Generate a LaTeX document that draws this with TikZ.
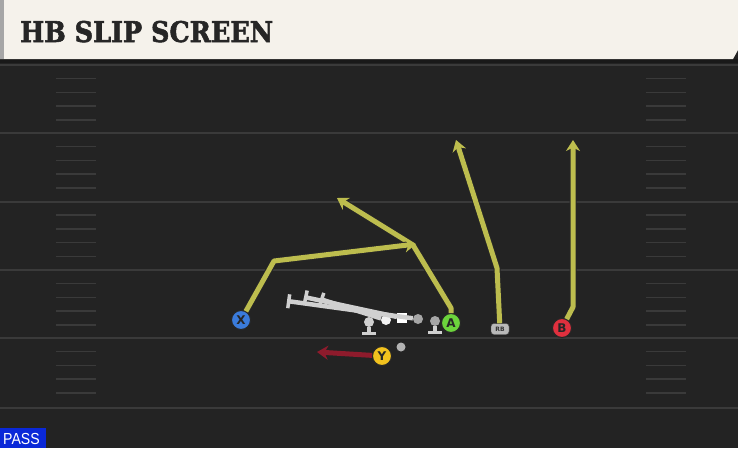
\documentclass[tikz,border=0pt]{standalone}
\usepackage{fontspec}
\usepackage{graphicx}
\usetikzlibrary{arrows.meta}
\newfontfamily\titlefont[BoldFeatures={FakeBold=2}]{DejaVu Serif}
\newfontfamily\labelfont{DejaVu Sans}
\newfontfamily\tagfont{Liberation Sans}
\definecolor{field}{HTML}{232323}
\definecolor{yardline}{HTML}{3A3A3A}
\definecolor{banner}{HTML}{F5F2EB}
\definecolor{routecol}{HTML}{BDBD4E}
\definecolor{blockcol}{HTML}{D0D0D0}
\definecolor{xblue}{HTML}{3A7BDB}
\definecolor{agreen}{HTML}{6CD43C}
\definecolor{bred}{HTML}{E0303E}
\definecolor{yyellow}{HTML}{F2C21E}
\definecolor{motioncol}{HTML}{8E1B2C}
\definecolor{passblue}{HTML}{0A28D8}
\tikzset{
  player/.style={circle, draw=black!85, line width=1pt, minimum size=19pt, inner sep=0pt,
    font=\labelfont\bfseries\fontsize{12}{12}\selectfont, text=black!85},
  routeline/.style={preaction={draw=black!85, line width=7pt, -, shorten >=6pt},
    draw=routecol, line width=5pt, line join=round,
    -{Stealth[length=11pt, width=14pt, inset=3.5pt]}},
  motionline/.style={motioncol, line width=5pt, -{Stealth[length=11pt, width=14pt, inset=3.5pt]}},
  blockline/.style={blockcol, line width=4.5pt, -{Bar[width=14pt, line width=3.5pt]}},
  lineman/.style={circle, fill=#1, minimum size=10pt, inner sep=0pt},
  hash/.style={yardline, line width=1.5pt}
}
\begin{document}
\begin{tikzpicture}[x=1pt, y=-1pt]
  \useasboundingbox (0,0) rectangle (738,448);
  \fill[field] (0,0) rectangle (738,448);
  % field markings
  \foreach \yl in {65,133,201.5,270,338,408}
    \draw[yardline, line width=2pt] (0,\yl) -- (738,\yl);
  \foreach \yl in {65,133,201.5,270,338}
    \foreach \k in {1,...,4} {
      \draw[hash] (56,\yl+\k*13.7) -- (96,\yl+\k*13.7);
      \draw[hash] (646,\yl+\k*13.7) -- (686,\yl+\k*13.7);
    }
  % title banner
  \fill[black!90] (0,59) rectangle (738,63);
  \fill[banner] (0,0) -- (738,0) -- (738,50) -- (733,59) -- (0,59) -- cycle;
  \fill[gray!70] (0,0) rectangle (4,59);
  \node[anchor=base west, inner sep=0pt, text=black!85] (title) at (20,42)
    {\scalebox{0.85}[0.95]{\titlefont\bfseries\fontsize{30}{30}\selectfont HB SLIP SCREEN}};
  % players
  \node[player, fill=xblue] (x) at (241,320) {X};
  \node[player, fill=agreen] (a) at (451,323) {A};
  \node[player, fill=bred] (b) at (562,328) {B};
  \node[player, fill=yyellow] (y) at (382,356) {Y};
  \node[rounded corners=3pt, fill=gray!55, draw=black!70, minimum width=18pt, minimum height=11pt,
    inner sep=0pt, font=\labelfont\bfseries\fontsize{6}{6}\selectfont, text=black!80] (rb) at (500,329) {RB};
  \node[circle, fill=gray!60, minimum size=9pt, inner sep=0pt] (qb) at (401,347) {};
  % line
  \node[lineman=blockcol] (ol1) at (369,322) {};
  \node[lineman=white!90!gray] (ol2) at (386,320) {};
  \node[fill=white, minimum size=10pt, inner sep=0pt] (ol3) at (402,318) {};
  \node[lineman=gray!70] (ol4) at (418,319) {};
  \node[lineman=gray!70] (ol5) at (435,321) {};
  \coordinate (blk1) at (287,301);
  \coordinate (blk2) at (304,297);
  \coordinate (blk3) at (320,299);
  \draw[blockline] (ol4) -- (blk1);
  \draw[blockline] (ol3) -- (blk2);
  \draw[blockline] (ol2) -- (blk3);
  \draw[blockline] (ol1) -- ++(0,13);
  \draw[blockline] (ol5) -- ++(0,13);
  % routes
  \coordinate (xbreak) at (274,261);
  \coordinate (xend) at (416,244);
  \coordinate (astem) at (451,308);
  \coordinate (acut) at (413,245);
  \coordinate (aend) at (337,198);
  \coordinate (rbbreak) at (497,268);
  \coordinate (rbend) at (456,140);
  \coordinate (bbreak) at (573,307);
  \coordinate (bend) at (573,140);
  \coordinate (yend) at (317,352);
  \draw[routeline] (a) -- (astem) -- (acut) -- (aend);
  \draw[routeline] (x) -- (xbreak) -- (xend);
  \draw[routeline] (rb) -- (rbbreak) -- (rbend);
  \draw[routeline] (b) -- (bbreak) -- (bend);
  \draw[motionline] (y) -- (yend);
  % play type tag
  \fill[passblue] (0,428) rectangle (46,448);
  \node[anchor=base west, inner sep=0pt, text=white] (tag) at (3,444)
    {\scalebox{0.88}[1]{\tagfont\fontsize{16}{16}\selectfont PASS}};
\end{tikzpicture}
\end{document}
